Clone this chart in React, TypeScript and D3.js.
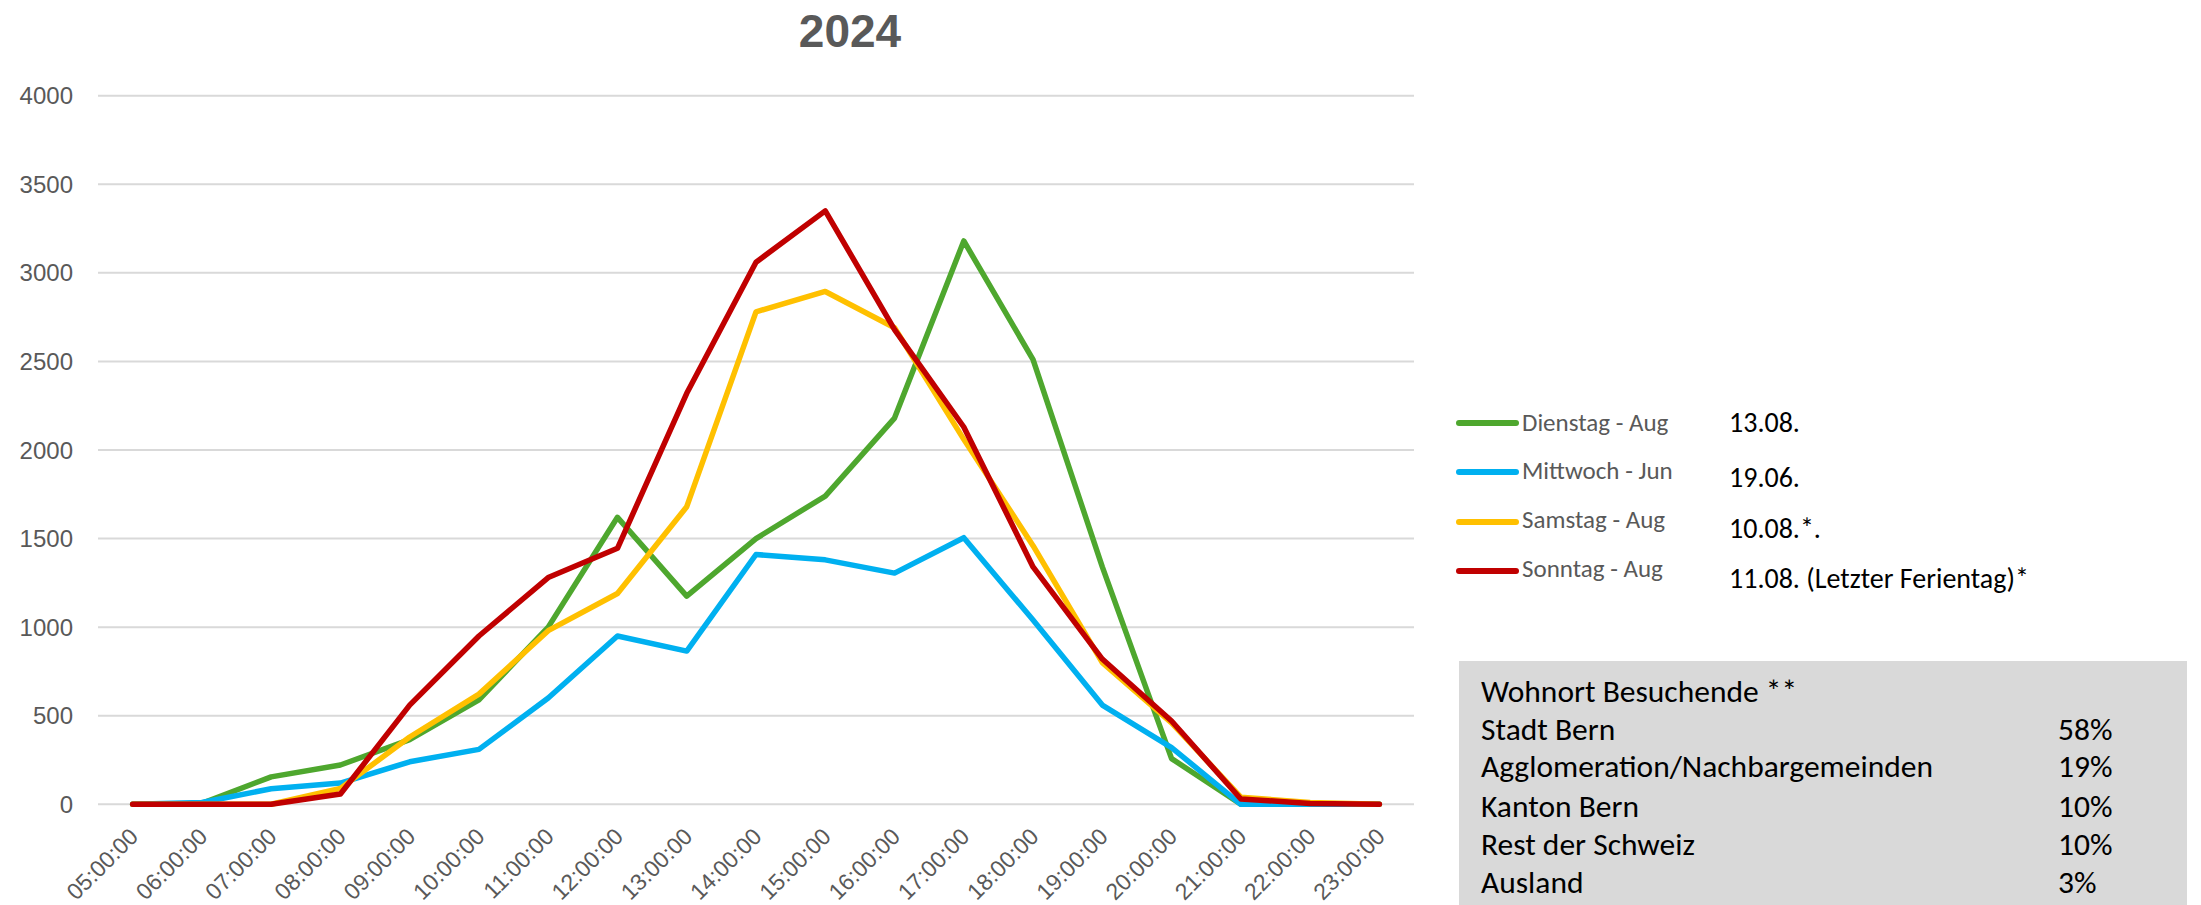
import React from "react";
import * as d3 from "d3";

const hours = [
  "05:00:00", "06:00:00", "07:00:00", "08:00:00", "09:00:00", "10:00:00", "11:00:00",
  "12:00:00", "13:00:00", "14:00:00", "15:00:00", "16:00:00", "17:00:00", "18:00:00",
  "19:00:00", "20:00:00", "21:00:00", "22:00:00", "23:00:00",
];

const dienstag = [0, 5, 155, 222, 365, 590, 1000, 1620, 1175, 1500, 1740, 2180, 3180, 2510, 1340, 258, 0, 0, 0];
const mittwoch = [0, 10, 88, 120, 240, 310, 600, 950, 865, 1410, 1380, 1305, 1505, 1040, 560, 320, 0, 0, 0];
const samstag = [0, 0, 0, 90, 380, 622, 980, 1190, 1680, 2780, 2895, 2690, 2060, 1460, 800, 460, 40, 10, 0];
const sonntag = [0, 0, 0, 58, 560, 950, 1280, 1445, 2320, 3060, 3350, 2680, 2130, 1340, 820, 470, 30, 5, 0];

const seriesNames = ["Dienstag - Aug", "Mittwoch - Jun", "Samstag - Aug", "Sonntag - Aug"];
const seriesColors = ["#4ea72e", "#00b0f0", "#ffc000", "#c00000"];
const seriesDates = ["13.08.", "19.06.", "10.08.*.", "11.08. (Letzter Ferientag)*"];
const seriesValues = [dienstag, mittwoch, samstag, sonntag];

const yTicks = [0, 500, 1000, 1500, 2000, 2500, 3000, 3500, 4000];

const originTitle = "Wohnort Besuchende **";
const originLabels = ["Stadt Bern", "Agglomeration/Nachbargemeinden", "Kanton Bern", "Rest der Schweiz", "Ausland"];
const originShares = ["58%", "19%", "10%", "10%", "3%"];

const W = 2201;
const H = 905;
const plotLeft = 98;
const plotRight = 1414;
const plotTop = 95.7;
const plotBottom = 804.3;

export default function App() {
  const x = d3.scalePoint<string>().domain(hours).range([plotLeft, plotRight]).padding(0.5);
  const y = d3.scaleLinear().domain([0, 4000]).range([plotBottom, plotTop]);
  const line = d3
    .line<number>()
    .x((_, i) => x(hours[i]) as number)
    .y((d) => y(d));

  const axisFont = "'Liberation Sans', Arial, sans-serif";
  const bodyFont = "Carlito, Calibri, Lato, sans-serif";

  const legendY = [423, 472, 522, 571];
  const legendTextY = [431, 479, 528, 577];
  const dateY = [432, 487, 538, 588];
  const boxRowsY = [702, 740, 777, 817, 855, 893];

  return (
    <svg
      width={W}
      height={H}
      viewBox={`0 0 ${W} ${H}`}
      style={{ position: "absolute", left: 0, top: 0, display: "block", background: "#ffffff" }}
    >
      <rect x={0} y={0} width={W} height={H} fill="#ffffff" />
      <text
        x={850}
        y={47}
        textAnchor="middle"
        fontFamily={axisFont}
        fontWeight="bold"
        fontSize={46}
        fill="#595959"
      >
        2024
      </text>

      {yTicks.map((t) => (
        <g key={t}>
          <line x1={plotLeft} x2={plotRight} y1={y(t)} y2={y(t)} stroke="#d9d9d9" strokeWidth={2} />
          <text
            x={73}
            y={y(t)}
            dy="0.36em"
            textAnchor="end"
            fontFamily={axisFont}
            fontSize={24}
            fill="#595959"
          >
            {t}
          </text>
        </g>
      ))}

      {hours.map((h) => {
        const px = (x(h) as number) + 7;
        const py = 838;
        return (
          <text
            key={h}
            x={px}
            y={py}
            textAnchor="end"
            transform={`rotate(-45 ${px} ${py})`}
            fontFamily={axisFont}
            fontSize={23}
            fill="#595959"
          >
            {h}
          </text>
        );
      })}

      {seriesValues.map((vals, i) => (
        <path
          key={seriesNames[i]}
          d={line(vals) || ""}
          fill="none"
          stroke={seriesColors[i]}
          strokeWidth={5.5}
          strokeLinejoin="round"
          strokeLinecap="round"
        />
      ))}

      {seriesNames.map((name, i) => (
        <g key={name}>
          <line
            x1={1459}
            x2={1516}
            y1={legendY[i]}
            y2={legendY[i]}
            stroke={seriesColors[i]}
            strokeWidth={6}
            strokeLinecap="round"
          />
          <text x={1522} y={legendTextY[i]} fontFamily={bodyFont} fontSize={25} fill="#595959">
            {name}
          </text>
          <text x={1729} y={dateY[i]} fontFamily={bodyFont} fontSize={28} fill="#000000">
            {seriesDates[i]}
          </text>
        </g>
      ))}

      <rect x={1459} y={661} width={728} height={H - 661} fill="#d9d9d9" />
      <text x={1481} y={boxRowsY[0]} fontFamily={bodyFont} fontSize={31.5} fill="#000000">
        {originTitle}
      </text>
      {originLabels.map((lab, i) => (
        <g key={lab}>
          <text x={1481} y={boxRowsY[i + 1]} fontFamily={bodyFont} fontSize={31.5} fill="#000000">
            {lab}
          </text>
          <text x={2058} y={boxRowsY[i + 1]} fontFamily={bodyFont} fontSize={31.5} fill="#000000">
            {originShares[i]}
          </text>
        </g>
      ))}
    </svg>
  );
}
